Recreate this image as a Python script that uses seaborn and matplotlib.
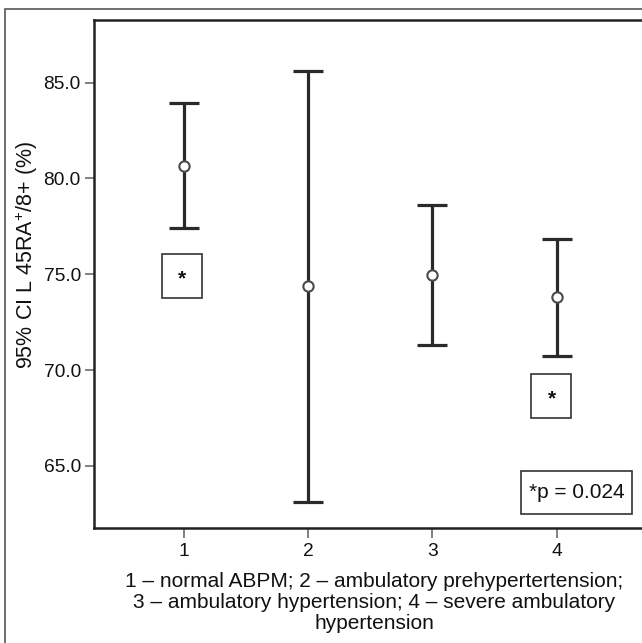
import matplotlib
matplotlib.use("Agg")
import matplotlib.pyplot as plt
from matplotlib.patches import Rectangle
import seaborn as sns
import pandas as pd

groups = [1, 2, 3, 4]
means = [80.64, 74.39, 74.96, 73.82]
upper = [83.93, 85.63, 78.64, 76.83]
lower = [77.43, 63.14, 71.30, 70.75]
yticks = [65.0, 70.0, 75.0, 80.0, 85.0]
star_groups = [1, 4]
star_y = [74.91, 68.64]
p_text = "*p = 0.024"
xlabel = ("1 \u2013 normal ABPM; 2 \u2013 ambulatory prehypertertension;\n"
          "3 \u2013 ambulatory hypertension; 4 \u2013 severe ambulatory\n"
          "hypertension")
ylabel = "95% CI L 45RA$^{\\mathregular{+}}$/8+ (%)"

sns.set_style("white")
plt.rcParams["font.family"] = ["Liberation Sans", "DejaVu Sans"]
plt.rcParams["mathtext.fontset"] = "custom"
plt.rcParams["mathtext.rm"] = "Liberation Sans"

df = pd.DataFrame({"group": groups, "mean": means, "upper": upper, "lower": lower})

W, H = 642, 643
fig = plt.figure(figsize=(W / 100, H / 100), dpi=100)

# outer frame
fig.patches.append(Rectangle((5 / W, -0.1), 1.2, 1 - 9 / H + 0.1, transform=fig.transFigure,
                             fill=False, edgecolor="#555555", linewidth=1.2, zorder=0))

ax_w_frac = 1 - 94 / W + 0.02
ax = fig.add_axes([94 / W, 1 - 528 / H, ax_w_frac, (528 - 20) / H])
ax.set_facecolor("white")
ax_w_px = ax_w_frac * W

line_col = "#2a2a2a"
ax.errorbar(df["group"], df["mean"],
            yerr=[df["mean"] - df["lower"], df["upper"] - df["mean"]],
            fmt="none", ecolor=line_col, elinewidth=2.3, capsize=11, capthick=2.3, zorder=2)
sns.scatterplot(data=df, x="group", y="mean", ax=ax, marker="o", s=55,
                facecolor="white", edgecolor="#4a4a4a", linewidth=1.5, zorder=3, legend=False)

ax.set_xlim(0.279, 4.686 + 0.02 * W / 124.3)
ax.set_ylim(61.76, 88.27)
ax.set_xticks(groups)
ax.set_xticklabels([str(g) for g in groups])
ax.set_yticks(yticks)
ax.set_yticklabels([f"{v:.1f}" for v in yticks])

for side in ["left", "bottom", "top"]:
    ax.spines[side].set_visible(True)
    ax.spines[side].set_color("#222222")
    ax.spines[side].set_linewidth(1.8)
ax.spines["right"].set_visible(False)

ax.tick_params(axis="y", direction="out", length=6.5, width=1.3, color="#777777",
               labelsize=13.8, pad=3, labelcolor="#111111", left=True)
ax.tick_params(axis="x", direction="out", length=7.5, width=1.3, color="#777777",
               labelsize=13.8, pad=3, labelcolor="#111111", bottom=True)

ax.set_xlabel(xlabel, fontsize=15, linespacing=1.14, labelpad=9, color="#111111")
ax.set_ylabel(ylabel, fontsize=15.5, color="#111111")
ax.yaxis.set_label_coords(-54 / ax_w_px, (528 - 255) / 508)

# significance boxes (pixel-sized)
px_x = 124.3  # px per x unit
px_y = 19.16  # px per y unit
bw, bh = 40 / px_x, 44 / px_y
for g, yy in zip(star_groups, star_y):
    xc = g - (1.6 if g == 1 else 5.2) / px_x
    ax.add_patch(Rectangle((xc - bw / 2, yy - bh / 2), bw, bh, fill=False,
                           edgecolor="#333333", linewidth=1.2, zorder=4))
    ax.text(xc, yy - 0.15, "*", ha="center", va="center", fontsize=15, fontweight="bold",
            color="#111111", zorder=5)

px_c, py_c = 4.16, 63.59
pw, ph = 111 / px_x, 43 / px_y
ax.add_patch(Rectangle((px_c - pw / 2, py_c - ph / 2), pw, ph, facecolor="white",
                       edgecolor="#333333", linewidth=1.2, zorder=4))
ax.text(px_c, py_c, p_text, ha="center", va="center", fontsize=15, color="#111111", zorder=5)

fig.savefig("out.png", dpi=100)
